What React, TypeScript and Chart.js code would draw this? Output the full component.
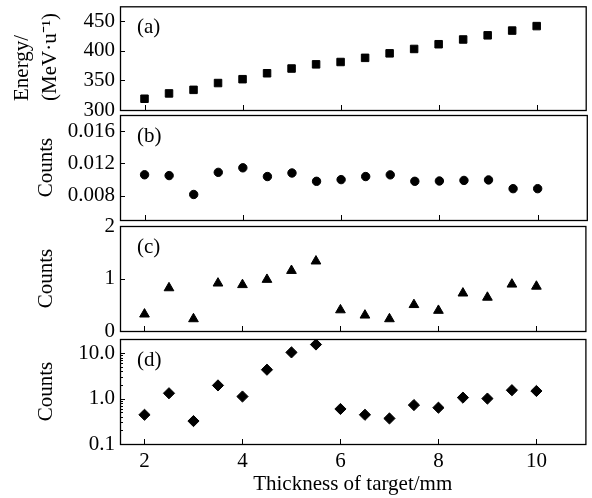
import React, { useEffect, useRef } from "react";
import { Chart, registerables } from "chart.js";
Chart.register(...registerables);

const thickness = [2, 2.5, 3, 3.5, 4, 4.5, 5, 5.5, 6, 6.5, 7, 7.5, 8, 8.5, 9, 9.5, 10];
const energy = [319, 328, 334, 345.5, 352, 362, 370, 377, 381, 388, 395.6, 403, 411, 419, 426, 434, 441.6];
const countsB = [0.0106, 0.0105, 0.00816, 0.0109, 0.01146, 0.01038, 0.01082, 0.00979, 0.01, 0.01038, 0.01059, 0.00979, 0.00983, 0.0099, 0.00996, 0.00888, 0.00888];
const countsC = [0.32, 0.82, 0.23, 0.91, 0.88, 0.98, 1.15, 1.33, 0.4, 0.3, 0.23, 0.5, 0.39, 0.72, 0.64, 0.89, 0.85];
const countsD = [0.44, 1.31, 0.32, 1.95, 1.11, 4.32, 10.4, 15.5, 0.59, 0.44, 0.365, 0.72, 0.63, 1.05, 1.0, 1.53, 1.47];

const xTicks = [2, 4, 6, 8, 10];
const yTicksA = [300, 350, 400, 450];
const yTicksB = [0.008, 0.012, 0.016];
const yTicksC = [0, 1, 2];
const yTicksD = [0.1, 1, 10];
const minorTicksD = [0.2, 0.3, 0.4, 0.5, 0.6, 0.7, 0.8, 0.9, 2, 3, 4, 5, 6, 7, 8, 9, 20];
const panelLabels = ["(a)", "(b)", "(c)", "(d)"];
const yTitleA = ["Energy/", "(MeV\u00B7u\u207B\u00B9)"];
const yTitle = "Counts";
const xTitle = "Thickness of target/mm";

const FONT = "'Liberation Serif', 'Times New Roman', serif";
const W = 592;
const H = 498;

type Spec = {
  top: number;
  bottom: number;
  values: number[];
  yMin: number;
  yMax: number;
  yTicks: number[];
  yFmt: (v: number) => string;
  log?: boolean;
  pointStyle: string;
  radius: number;
  showX: boolean;
};

const specs: Spec[] = [
  { top: 5, bottom: 110, values: energy, yMin: 300, yMax: 475, yTicks: yTicksA, yFmt: (v) => String(v), pointStyle: "rect", radius: 5.3, showX: false },
  { top: 115, bottom: 220, values: countsB, yMin: 0.005, yMax: 0.018, yTicks: yTicksB, yFmt: (v) => v.toFixed(3), pointStyle: "circle", radius: 4.2, showX: false },
  { top: 226, bottom: 331, values: countsC, yMin: 0, yMax: 2, yTicks: yTicksC, yFmt: (v) => String(v), pointStyle: "triangle", radius: 5.6, showX: false },
  { top: 339, bottom: 444, values: countsD, yMin: 0.1, yMax: 20.5, yTicks: yTicksD, yFmt: (v) => v.toFixed(1), log: true, pointStyle: "rectRot", radius: 5.6, showX: true },
];

function makeConfig(idx: number): any {
  const s = specs[idx];
  const xAxisH = s.showX ? H - s.bottom : 0;
  const decor = {
    id: "decor" + idx,
    afterDraw(chart: any) {
      const { ctx, chartArea } = chart;
      const { left, right, top, bottom } = chartArea;
      const xs = chart.scales.x;
      const ys = chart.scales.y;
      ctx.save();
      ctx.strokeStyle = "#000";
      ctx.lineWidth = 1.3;
      ctx.strokeRect(left + 0.5, top + 0.5, right - left, bottom - top);
      ctx.lineWidth = 1;
      ctx.beginPath();
      for (const t of xTicks) {
        const px = Math.round(xs.getPixelForValue(t)) + 0.5;
        ctx.moveTo(px, bottom);
        ctx.lineTo(px, bottom - 5);
      }
      for (const t of s.yTicks) {
        const py = Math.round(ys.getPixelForValue(t)) + 0.5;
        ctx.moveTo(left, py);
        ctx.lineTo(left + 5, py);
      }
      if (s.log) {
        for (const t of minorTicksD) {
          const py = Math.round(ys.getPixelForValue(t)) + 0.5;
          ctx.moveTo(left, py);
          ctx.lineTo(left + 3, py);
        }
      }
      ctx.stroke();
      ctx.fillStyle = "#000";
      ctx.font = "21px " + FONT;
      ctx.textAlign = "left";
      ctx.textBaseline = "middle";
      ctx.fillText(panelLabels[idx], left + 17, top + 21);
      if (idx === 0) {
        const lines = yTitleA;
        const xsPos = [22, 50];
        lines.forEach((ln, i) => {
          ctx.save();
          ctx.translate(xsPos[i], bottom - 9);
          ctx.rotate(-Math.PI / 2);
          ctx.textAlign = "left";
          ctx.textBaseline = "middle";
          ctx.fillText(ln, 0, 0);
          ctx.restore();
        });
      }
      ctx.restore();
    },
  };
  return {
    type: "scatter",
    data: {
      datasets: [
        {
          data: thickness.map((x, i) => ({ x, y: s.values[i] })),
          pointStyle: s.pointStyle,
          radius: s.radius,
          backgroundColor: "#000",
          borderColor: "#000",
          borderWidth: 1,
          showLine: false,
        },
      ],
    },
    options: {
      responsive: false,
      animation: false,
      devicePixelRatio: 1,
      layout: { padding: { left: 0, right: 5, top: s.top, bottom: H - s.bottom - xAxisH } },
      plugins: { legend: { display: false }, tooltip: { enabled: false } },
      scales: {
        x: {
          type: "linear",
          min: 1.5,
          max: 11,
          grid: { display: false, drawTicks: false },
          border: { display: false },
          afterBuildTicks: (sc: any) => {
            sc.ticks = xTicks.map((v) => ({ value: v }));
          },
          afterFit: (sc: any) => {
            sc.height = xAxisH;
            sc.paddingLeft = 0;
            sc.paddingRight = 0;
          },
          ticks: {
            display: s.showX,
            color: "#000",
            padding: 5,
            font: { family: FONT, size: 21 },
            callback: (v: any) => String(v),
          },
          title: {
            display: s.showX,
            text: xTitle,
            color: "#000",
            font: { family: FONT, size: 21 },
            padding: { top: 0, bottom: 1 },
          },
        },
        y: {
          type: s.log ? "logarithmic" : "linear",
          min: s.yMin,
          max: s.yMax,
          grid: { display: false, drawTicks: false },
          border: { display: false },
          afterBuildTicks: (sc: any) => {
            sc.ticks = s.yTicks.map((v) => ({ value: v }));
          },
          afterFit: (sc: any) => {
            sc.width = 120;
            sc.paddingTop = 0;
            sc.paddingBottom = 0;
          },
          ticks: {
            color: "#000",
            padding: 5,
            font: { family: FONT, size: 21 },
            callback: (v: any) => s.yFmt(Number(v)),
          },
          title: {
            display: idx !== 0,
            text: yTitle,
            color: "#000",
            font: { family: FONT, size: 21 },
            padding: { top: 34, bottom: 0 },
          },
        },
      },
    },
    plugins: [decor],
  };
}

function Panel({ idx }: { idx: number }) {
  const ref = useRef<HTMLCanvasElement>(null);
  useEffect(() => {
    const chart = new Chart(ref.current as HTMLCanvasElement, makeConfig(idx));
    return () => chart.destroy();
  }, [idx]);
  return (
    <canvas
      ref={ref}
      width={W}
      height={H}
      style={{ position: "absolute", left: 0, top: 0, width: W, height: H }}
    />
  );
}

export default function App() {
  return (
    <div style={{ position: "absolute", left: 0, top: 0, width: W, height: H, background: "#fff" }}>
      {specs.map((_, i) => (
        <Panel key={i} idx={i} />
      ))}
    </div>
  );
}
